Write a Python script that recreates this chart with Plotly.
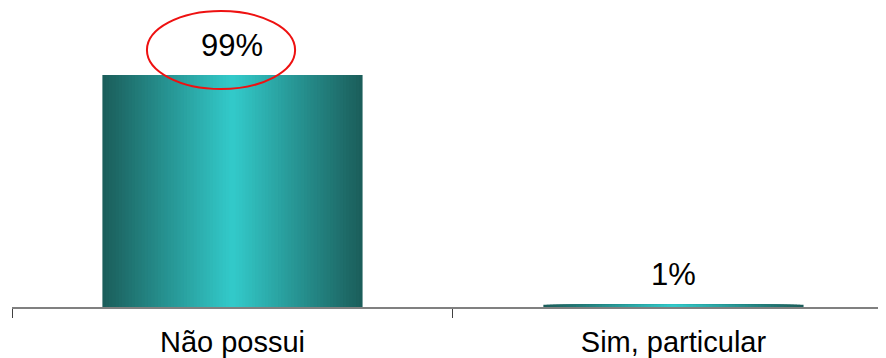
import plotly.graph_objects as go

categories = ["Não possui", "Sim, particular"]
values = [99, 1]
value_labels = ["99%", "1%"]

EDGE = (27, 94, 91)
CENTER = (51, 204, 204)
N = 40
BAR_W = 0.59
FONT = "Liberation Sans, Arial, sans-serif"

fig = go.Figure()
for k in range(N):
    d = 1 - k / N  # relative distance from centre
    t = 1 - d
    c = tuple(round(EDGE[i] + (CENTER[i] - EDGE[i]) * t) for i in range(3))
    fig.add_trace(go.Bar(
        x=categories, y=values,
        width=BAR_W * d,
        marker=dict(color="rgb(%d,%d,%d)" % c, line=dict(width=0)),
        showlegend=False, hoverinfo="skip" if k < N - 1 else "x+y",
    ))

for cat, v, lab in zip(categories, values, value_labels):
    fig.add_annotation(x=cat, y=v, text=lab, showarrow=False,
                       yanchor="middle", yshift=30,
                       font=dict(family=FONT, size=31, color="#000"))

fig.add_shape(type="circle", xref="x", yref="y",
              x0=-0.194, x1=0.142, y0=93.0, y1=126.3,
              line=dict(color="#ee1111", width=2))

fig.update_layout(
    width=878, height=350,
    margin=dict(l=4, r=0, t=0, b=51, autoexpand=False),
    barmode="overlay",
    plot_bgcolor="white", paper_bgcolor="white",
    font=dict(family=FONT, size=29, color="#000"),
    xaxis=dict(
        range=[-0.5, 1.482], type="category",
        showline=True, linecolor="#808080", linewidth=1.5,
        ticks="outside", tickson="boundaries", ticklen=9,
        tickcolor="#404040", tickwidth=1,
        showgrid=False, zeroline=False, automargin=False,
        ticklabelstandoff=8,
        tickfont=dict(family=FONT, size=29, color="#000"),
    ),
    yaxis=dict(range=[0, 127.6], visible=False),
)

fig.write_html("out.html")
